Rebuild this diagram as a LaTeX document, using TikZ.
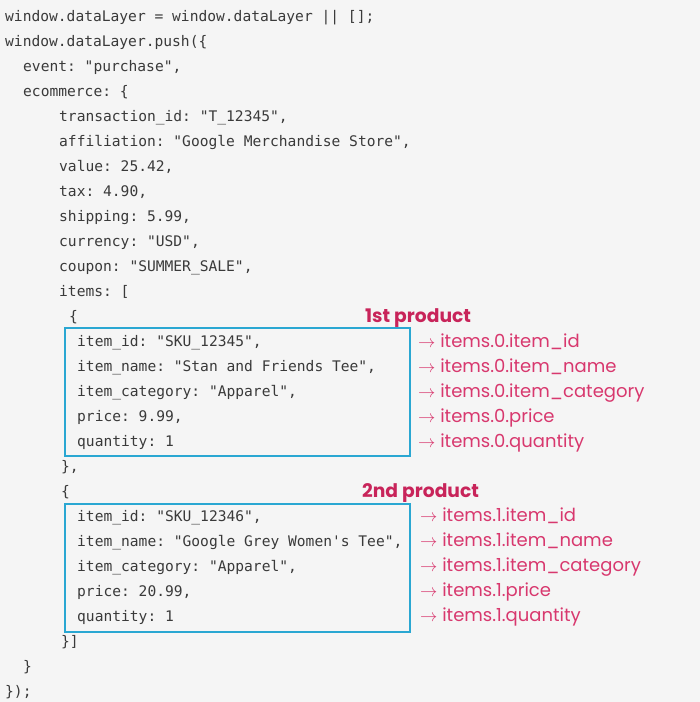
\documentclass[tikz,border=0pt]{standalone}
\usepackage{fontspec}
\setmonofont{DejaVu Sans Mono}
\newfontfamily\pathfont{Poppins}
\definecolor{pagegray}{HTML}{F5F5F5}
\definecolor{codegray}{HTML}{3A3A3A}
\definecolor{boxblue}{HTML}{2AA7D2}
\definecolor{pathpink}{HTML}{D8386E}
\definecolor{titlered}{HTML}{C8245A}
\begin{document}
\begin{tikzpicture}[x=1pt,y=-1pt,
    code/.style={anchor=base west, inner sep=0pt, text=codegray,
      font=\ttfamily\fontsize{14.6}{17}\selectfont},
    pathlabel/.style={anchor=base west, inner sep=0pt, text=pathpink,
      font=\pathfont\fontsize{18}{21}\selectfont},
    prodtitle/.style={anchor=base west, inner sep=0pt, text=titlered,
      font=\pathfont\bfseries\fontsize{18.7}{22}\selectfont},
    itembox/.style={draw=boxblue, line width=2.6pt}]
    \fill [pagegray] (0,0) rectangle (700,702);
    \useasboundingbox (0,0) rectangle (700,702);
    % code lines
    \node [code] (dl) at (5,21) {window.dataLayer = window.dataLayer || [];};
    \node [code] (push) at (5,46) {window.dataLayer.push(\{};
    \node [code] (event) at (23,71) {event: "purchase",};
    \node [code] (ecom) at (23,96) {ecommerce: \{};
    \node [code] (tid) at (59,121) {transaction\_id: "T\_12345",};
    \node [code] (aff) at (59,146) {affiliation: "Google Merchandise Store",};
    \node [code] (val) at (59,171) {value: 25.42,};
    \node [code] (tax) at (59,196) {tax: 4.90,};
    \node [code] (ship) at (59,221) {shipping: 5.99,};
    \node [code] (cur) at (59,246) {currency: "USD",};
    \node [code] (coup) at (59,271) {coupon: "SUMMER\_SALE",};
    \node [code] (items) at (59,296) {items: [};
    \node [code] (open1) at (69,321) {\{};
    \node [code] (id1) at (77,346) {item\_id: "SKU\_12345",};
    \node [code] (name1) at (77,371) {item\_name: "Stan and Friends Tee",};
    \node [code] (cat1) at (77,396) {item\_category: "Apparel",};
    \node [code] (price1) at (77,421) {price: 9.99,};
    \node [code] (qty1) at (77,446) {quantity: 1};
    \node [code] (close1) at (61,471) {\},};
    \node [code] (open2) at (61,496) {\{};
    \node [code] (id2) at (77,521) {item\_id: "SKU\_12346",};
    \node [code] (name2) at (77,546) {item\_name: "Google Grey Women's Tee",};
    \node [code] (cat2) at (77,571) {item\_category: "Apparel",};
    \node [code] (price2) at (77,596) {price: 20.99,};
    \node [code] (qty2) at (77,621) {quantity: 1};
    \node [code] (close2) at (61,646) {\}]};
    \node [code] (ecomend) at (23,671) {\}};
    \node [code] (pushend) at (5,696) {\});};
    % product boxes
    \draw [itembox] (65,328) rectangle (410,456);
    \draw [itembox] (65,504) rectangle (410,632);
    % first product
    \node [prodtitle] (title1) at (365,322) {1st product};
    \node [pathlabel] (pid1) at (418,347.5) {$\rightarrow$ items.0.item\_id};
    \node [pathlabel] (pname1) at (418,372.5) {$\rightarrow$ items.0.item\_name};
    \node [pathlabel] (pcat1) at (418,397.5) {$\rightarrow$ items.0.item\_category};
    \node [pathlabel] (pprice1) at (418,422.5) {$\rightarrow$ items.0.price};
    \node [pathlabel] (pqty1) at (418,447.5) {$\rightarrow$ items.0.quantity};
    % second product
    \node [prodtitle] (title2) at (362,497) {2nd product};
    \node [pathlabel] (pid2) at (420,521.5) {$\rightarrow$ items.1.item\_id};
    \node [pathlabel] (pname2) at (420,546.5) {$\rightarrow$ items.1.item\_name};
    \node [pathlabel] (pcat2) at (420,571.5) {$\rightarrow$ items.1.item\_category};
    \node [pathlabel] (pprice2) at (420,596.5) {$\rightarrow$ items.1.price};
    \node [pathlabel] (pqty2) at (420,621.5) {$\rightarrow$ items.1.quantity};
  \end{tikzpicture}
\end{document}
